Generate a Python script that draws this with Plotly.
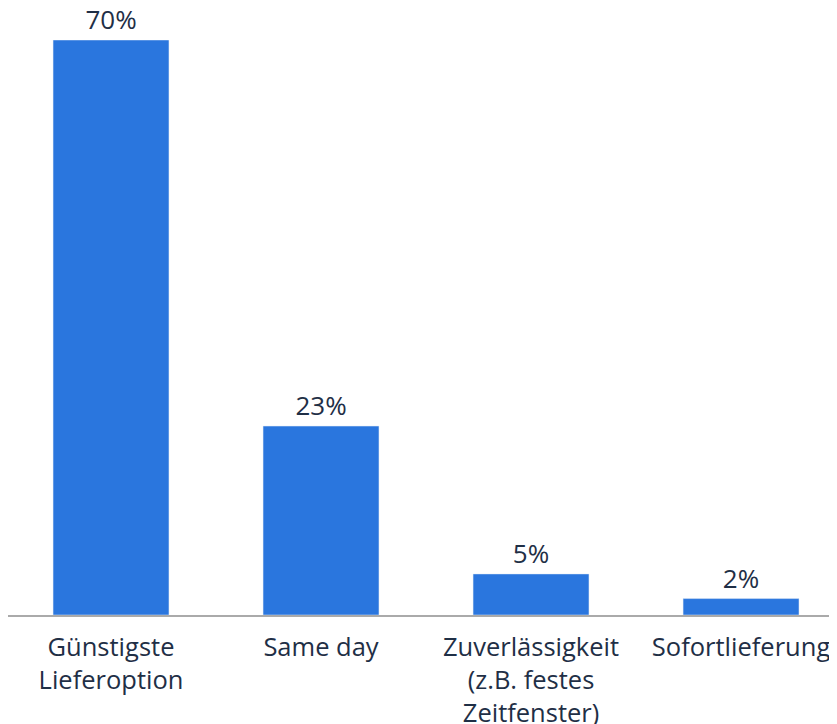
import plotly.graph_objects as go

categories = ["Günstigste<br>Lieferoption", "Same day", "Zuverlässigkeit<br>(z.B. festes<br>Zeitfenster)", "Sofortlieferung"]
values = [70, 23, 5, 2]
labels = ["70%", "23%", "5%", "2%"]

font_color = "#1f2f46"
fig = go.Figure(go.Bar(
    x=list(range(len(categories))),
    y=values,
    text=labels,
    textposition="outside",
    cliponaxis=False,
    marker=dict(color="#2a76de"),
    width=0.552,
    textfont=dict(family="Open Sans", size=26, color=font_color),
))
fig.update_layout(
    width=829, height=716,
    margin=dict(l=0, r=0, t=32, b=109, autoexpand=False),
    paper_bgcolor="white", plot_bgcolor="white",
    showlegend=False,
    font=dict(family="Open Sans", size=26, color=font_color),
    xaxis=dict(
        tickmode="array", tickvals=list(range(len(categories))), ticktext=categories,
        range=[-0.4905, 3.457], showgrid=False, zeroline=False,
        showline=True, linecolor="#aaaaaa", linewidth=2,
        ticks="", tickfont=dict(size=25.5, color=font_color),
        ticklabelstandoff=8, automargin=False,
    ),
    yaxis=dict(range=[0, 70], visible=False, showgrid=False, zeroline=False, automargin=False),
)
fig.write_html("out.html")
